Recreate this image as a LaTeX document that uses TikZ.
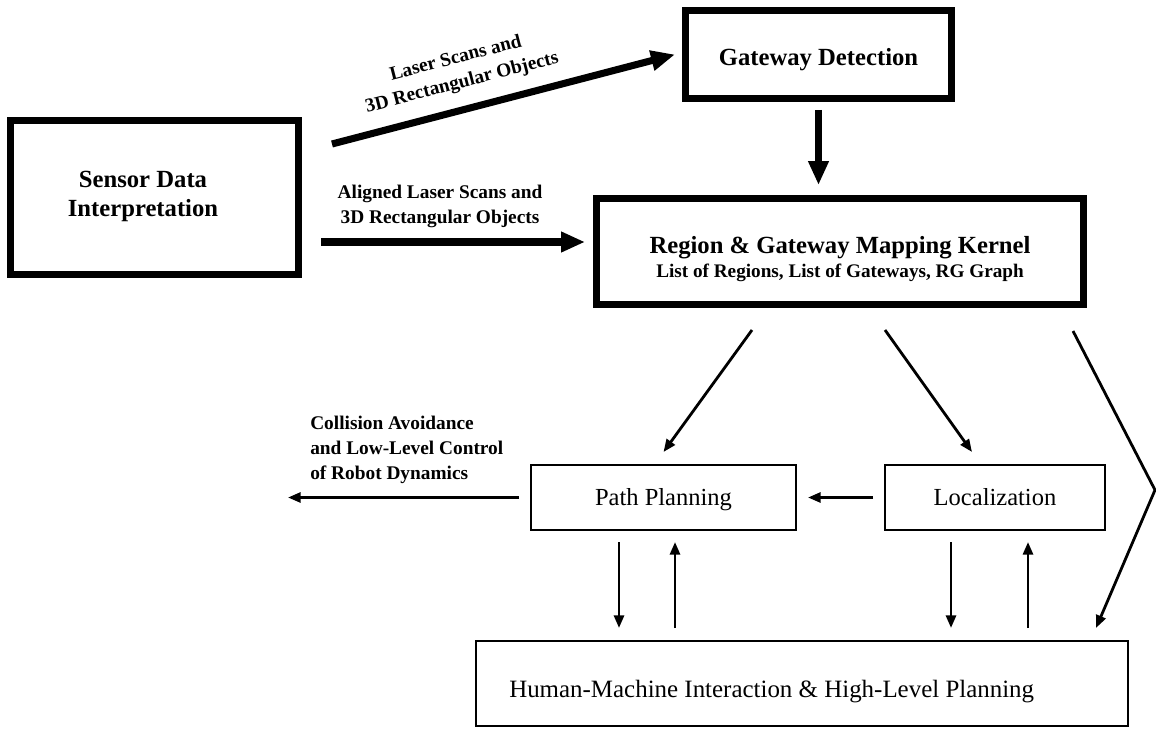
\documentclass[tikz,border=0pt]{standalone}
\usepackage{fontspec}
\setmainfont{Liberation Serif}
\usetikzlibrary{arrows.meta,calc}
\begin{document}
\begin{tikzpicture}[x=0.75pt,y=-0.75pt,
  heavybox/.style={draw, line width=5.3pt, inner sep=0pt, outer sep=0pt},
  lightbox/.style={draw, line width=2.2pt, inner sep=0pt, outer sep=0pt},
  heavyflow/.style={line width=5.3pt, -{Triangle[length=18pt,width=14.5pt]}},
  lightflow/.style={line width=2.1pt, -{Triangle[length=9.5pt,width=7.5pt]}},
  titletext/.style={font=\fontsize{18.5}{21.75}\selectfont\bfseries, inner sep=0pt, align=center},
  subtext/.style={font=\fontsize{14.4}{18}\selectfont\bfseries, inner sep=0pt},
  plaintext/.style={font=\fontsize{18.4}{22}\selectfont, inner sep=0pt},
  flowlabel/.style={font=\fontsize{14.5}{18.75}\selectfont\bfseries, inner sep=0pt, align=center},
]
\useasboundingbox (0,0) rectangle (1156,728);
\fill[white] (0,0) rectangle (1156,728);

% processing blocks
\node[heavybox, minimum width=216pt, minimum height=115.5pt] (sensor) at (154.5,197.5) {};
\node[heavybox, minimum width=199.5pt, minimum height=66pt] (gateway) at (818.5,54.5) {};
\node[heavybox, minimum width=365.25pt, minimum height=79.5pt] (kernel) at (840,251.5) {};
\node[lightbox, minimum width=198.75pt, minimum height=48.75pt] (path) at (663.5,497.5) {};
\node[lightbox, minimum width=165pt, minimum height=48.75pt] (loc) at (995,497.5) {};
\node[lightbox, minimum width=489pt, minimum height=63.75pt] (hmi) at (802,683.5) {};

% block captions
\node[titletext] (sensortxt) at (143,196) {Sensor Data\\Interpretation};
\node[titletext, anchor=base] (gatewaytxt) at (818.5,65) {Gateway Detection};
\node[titletext, anchor=base] (kerneltxt) at (840,253) {Region \& Gateway Mapping Kernel};
\node[subtext, anchor=base] (kernelsub) at (840,277) {List of Regions, List of Gateways, RG Graph};
\node[plaintext, anchor=base] (pathtxt) at (663.5,505) {Path Planning};
\node[plaintext, anchor=base] (loctxt) at (995,505) {Localization};
\node[plaintext, font=\fontsize{18.7}{22}\selectfont, anchor=base west] (hmitxt) at (509,697) {Human-Machine Interaction \& High-Level Planning};

% data flow labels
\node[flowlabel, rotate=14.55] (rawlbl) at (459,71) {Laser Scans and\\3D Rectangular Objects};
\node[flowlabel] (alignlbl) at (440,206) {Aligned Laser Scans and\\3D Rectangular Objects};
\node[flowlabel, align=left, anchor=west] (ctrllbl) at (310,449.5) {Collision Avoidance\\and Low-Level Control\\of Robot Dynamics};

% free ends of connectors
\coordinate (robot) at (288,497.5);
\coordinate (bend) at (1155,490);

% heavy data flows
\draw[heavyflow] ([shift={(33.5,23.5)}]sensor.north east) -- ([shift={(-10.5,0)}]gateway.west);
\draw[heavyflow] ([shift={(22.5,44.5)}]sensor.east) -- ([shift={(-11.5,-9.5)}]kernel.west);
\draw[heavyflow, shorten <=8.6pt, shorten >=10.1pt] (gateway.south) -- (gateway.south |- kernel.north);

% kernel outputs
\draw[lightflow] ([shift={(-88,25.5)}]kernel.south) -- ([shift={(0,-13)}]path.north);
\draw[lightflow] ([shift={(45,25.5)}]kernel.south) -- ([shift={(-23,-13)}]loc.north);
\draw[lightflow] ([shift={(-10.5,26.5)}]kernel.south east) -- (bend) -- ([shift={(-32,-13)}]hmi.north east);

% planning and localization links
\draw[lightflow, shorten <=9pt, shorten >=9pt] (loc.west) -- (path.east);
\draw[lightflow, shorten <=9pt] (path.west) -- (robot);
\draw[lightflow, shorten <=9pt, shorten >=9.75pt] ([shift={(-44.5,0)}]path.south) -- ([shift={(-44.5,0)}]path.south |- hmi.north);
\draw[lightflow, shorten <=9.75pt, shorten >=9pt] ([shift={(11.5,0)}]path.south |- hmi.north) -- ([shift={(11.5,0)}]path.south);
\draw[lightflow, shorten <=9pt, shorten >=9.75pt] ([shift={(-44,0)}]loc.south) -- ([shift={(-44,0)}]loc.south |- hmi.north);
\draw[lightflow, shorten <=9.75pt, shorten >=9pt] ([shift={(33,0)}]loc.south |- hmi.north) -- ([shift={(33,0)}]loc.south);
\end{tikzpicture}
\end{document}
